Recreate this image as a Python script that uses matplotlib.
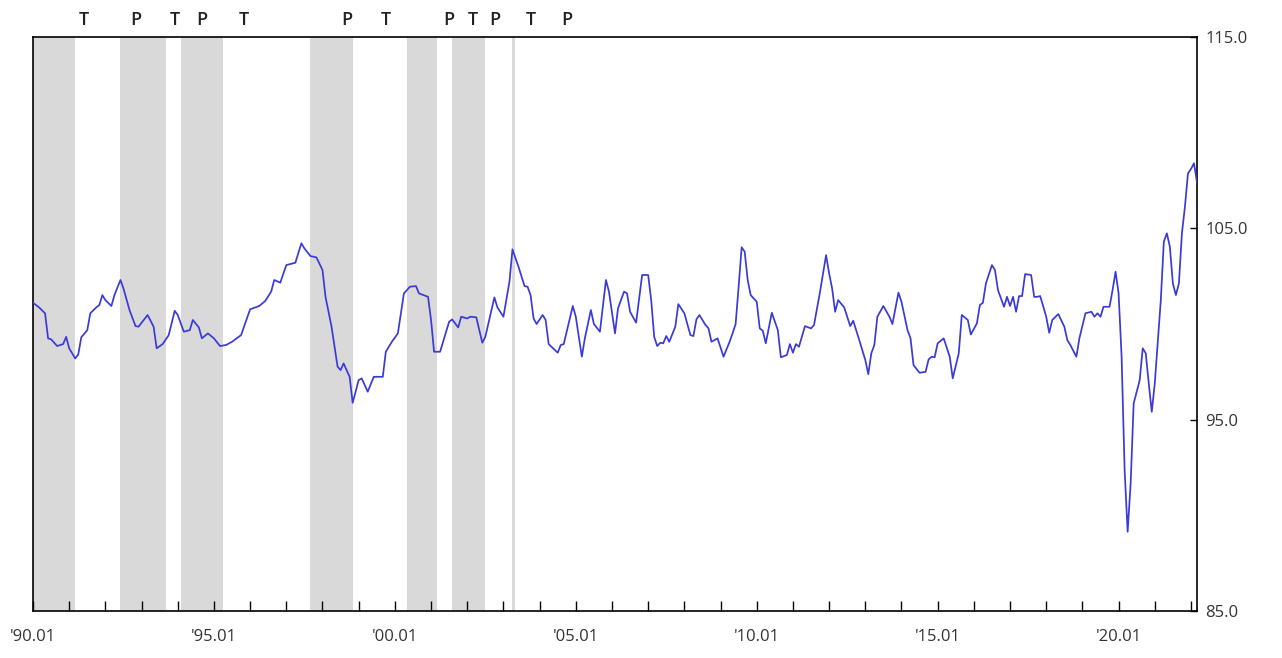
import matplotlib
matplotlib.use('Agg')
import matplotlib.pyplot as plt
import matplotlib.transforms as mtransforms

# Monthly index, months since 1990.01, and values.
month_idx = [0, 2, 4, 5, 6, 8, 10, 11, 12, 14, 15, 16, 18, 19, 21, 22, 23, 24, 26, 27,
             29, 30, 32, 34, 35, 38, 40, 41, 43, 45, 47, 48, 50, 52, 53, 55, 56, 58, 60, 62,
             64, 66, 69, 72, 75, 77, 79, 80, 82, 84, 87, 89, 90, 92, 94, 96, 97, 99, 101, 102,
             103, 105, 106, 108, 109, 111, 113, 116, 117, 119, 121, 123, 125, 127, 128, 131, 132, 133, 135, 138,
             139, 141, 142, 144, 145, 147, 149, 150, 153, 154, 156, 158, 159, 161, 163, 164, 165, 166, 167, 169,
             170, 171, 174, 175, 176, 179, 180, 182, 183, 185, 186, 188, 190, 191, 193, 194, 196, 197, 198, 200,
             202, 204, 205, 206, 207, 208, 209, 210, 211, 213, 214, 216, 218, 219, 220, 221, 223, 224, 225, 227,
             229, 231, 232, 233, 234, 235, 236, 237, 238, 240, 241, 242, 243, 245, 247, 248, 250, 251, 252, 253,
             254, 256, 258, 259, 261, 263, 264, 265, 266, 267, 269, 271, 272, 274, 276, 277, 278, 279, 280, 282,
             284, 285, 287, 288, 290, 291, 292, 294, 296, 297, 298, 299, 300, 302, 304, 305, 307, 308, 310, 311,
             313, 314, 315, 316, 318, 319, 320, 322, 323, 324, 325, 326, 327, 328, 329, 331, 332, 333, 334, 336,
             337, 338, 340, 342, 343, 344, 346, 347, 349, 351, 352, 353, 354, 355, 357, 358, 359, 360, 361, 362,
             363, 364, 365, 367, 368, 369, 370, 371, 372, 374, 375, 376, 377, 378, 379, 380, 381, 382, 383, 384,
             385, 386]
values = [101.11, 100.87, 100.56, 99.25, 99.20, 98.85, 98.95, 99.33, 98.73, 98.20, 98.40, 99.30, 99.68, 100.56, 100.87, 100.99, 101.51, 101.25, 100.94, 101.51,
          102.30, 101.86, 100.73, 99.89, 99.86, 100.47, 99.86, 98.73, 98.95, 99.42, 100.69, 100.47, 99.60, 99.68, 100.21, 99.82, 99.25, 99.51, 99.25, 98.85,
          98.90, 99.07, 99.42, 100.77, 100.94, 101.20, 101.70, 102.30, 102.16, 103.08, 103.20, 104.22, 103.95, 103.55, 103.48, 102.82, 101.42, 99.86, 97.77, 97.59,
          97.94, 97.24, 95.88, 97.07, 97.16, 96.46, 97.24, 97.24, 98.55, 99.07, 99.51, 101.60, 101.95, 101.98, 101.60, 101.42, 100.21, 98.55, 98.55, 100.12,
          100.24, 99.82, 100.38, 100.29, 100.38, 100.35, 99.02, 99.33, 101.39, 100.87, 100.38, 102.21, 103.90, 102.99, 101.98, 101.95, 101.51, 100.29, 100.00, 100.47,
          100.21, 98.95, 98.50, 98.90, 98.95, 100.94, 100.38, 98.29, 99.25, 100.73, 100.00, 99.60, 102.30, 101.69, 99.51, 100.82, 101.69, 101.60, 100.64, 100.07,
          102.56, 102.56, 101.25, 99.33, 98.85, 99.02, 98.99, 99.37, 99.07, 99.86, 101.04, 100.56, 99.42, 99.37, 100.24, 100.47, 99.95, 99.77, 99.07, 99.25,
          98.29, 99.07, 99.51, 100.00, 101.95, 104.01, 103.78, 102.30, 101.51, 101.16, 99.77, 99.65, 98.99, 100.59, 99.68, 98.26, 98.38, 98.95, 98.50, 98.95,
          98.81, 99.89, 99.77, 99.95, 101.69, 103.60, 102.65, 101.86, 100.64, 101.25, 100.87, 99.89, 100.17, 99.16, 98.12, 97.38, 98.47, 98.90, 100.38, 100.94,
          100.38, 100.00, 101.64, 101.16, 99.68, 99.25, 97.85, 97.45, 97.50, 98.15, 98.29, 98.26, 98.99, 99.25, 98.29, 97.16, 98.47, 100.47, 100.21, 99.45,
          100.03, 100.99, 101.11, 102.12, 103.08, 102.82, 101.77, 100.90, 101.42, 100.94, 101.42, 100.64, 101.46, 101.46, 102.61, 102.56, 101.42, 101.42, 101.46, 100.38,
          99.54, 100.21, 100.52, 99.86, 99.16, 98.90, 98.29, 99.25, 100.56, 100.64, 100.38, 100.56, 100.38, 100.90, 100.90, 101.77, 102.73, 101.60, 98.29, 92.37,
          89.14, 91.67, 95.85, 97.07, 98.73, 98.47, 96.90, 95.41, 96.90, 101.25, 104.30, 104.74, 104.04, 102.12, 101.51, 102.12, 104.74, 106.13, 107.87, 108.10,
          108.40, 107.40]

# Shaded periods (start, end) and the turning point marks above the chart.
shade_periods = [('1990.01', '1991.03'), ('1992.06', '1993.09'), ('1994.02', '1995.04'),
                 ('1997.09', '1998.11'), ('2000.05', '2001.03'), ('2001.08', '2002.07'),
                 ('2003.04', '2003.05')]
turn_dates = ['1991.06', '1992.11', '1993.12', '1994.09', '1995.11', '1998.09',
              '1999.10', '2001.07', '2002.03', '2002.10', '2003.10', '2004.10']
turn_labels = ['T', 'P', 'T', 'P', 'T', 'P', 'T', 'P', 'T', 'P', 'T', 'P']

x_label_years = [1990, 1995, 2000, 2005, 2010, 2015, 2020]
y_ticks = [85.0, 95.0, 105.0, 115.0]


def to_month(s):
    y, m = s.split('.')
    return (int(y) - 1990) * 12 + int(m) - 1


plt.rcParams['font.family'] = ['Open Sans', 'DejaVu Sans']

fig = plt.figure(figsize=(12.82, 6.58), dpi=100)
ax = fig.add_axes([33 / 1282, 1 - 611 / 658, (1197 - 33) / 1282, (611 - 37) / 658])

# Shading.
for start, end in shade_periods:
    ax.axvspan(to_month(start), to_month(end), color='#d9d9d9', lw=0, zorder=0)

# Series.
ax.plot(month_idx, values, color='#3a3ad8', lw=1.25, zorder=3)

ax.set_xlim(0, 386)
ax.set_ylim(85, 115)

# X ticks every year, labels every five.
ax.set_xticks(list(range(0, 386, 12)))
ax.set_xticklabels(["'%02d.01" % (y % 100) if y in x_label_years else ''
                    for y in range(1990, 2023)])
ax.tick_params(axis='x', direction='in', length=7.5, width=1, color='black',
               labelsize=12, labelcolor='#333333', pad=13)

# Y ticks on the right.
ax.yaxis.tick_right()
ax.set_yticks(y_ticks)
ax.set_yticklabels(['%.1f' % v for v in y_ticks])
ax.tick_params(axis='y', direction='in', length=5, width=1, color='black',
               labelsize=12, labelcolor='#333333', pad=6)

for sp in ax.spines.values():
    sp.set_color('black')
    sp.set_linewidth(1.2)

# Turning point marks.
trans = mtransforms.blended_transform_factory(ax.transData, ax.transAxes)
for d, lab in zip(turn_dates, turn_labels):
    ax.text(to_month(d), 1.03, lab, transform=trans, ha='center', va='center',
            fontsize=13, fontweight='semibold', color='#222222')

fig.savefig('out.png', dpi=100)
